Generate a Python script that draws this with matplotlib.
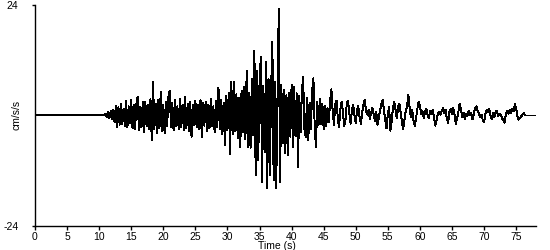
import numpy as np
import matplotlib
matplotlib.use("Agg")
import matplotlib.pyplot as plt

# ---- data (cm/s/s) ----
pre_event_time = [0.0, 1.0, 10.9]
pre_event_vals = [0.0, 0.2, 0.2]

t_start = 11.0
dt = 0.2
accel = [
    # 11.0 - 15.8
    0.3, -0.4, 0.8, -0.6, 1.0, -0.8, 1.2, -1.5, 2.0, -2.5, 1.8, -2.0, 2.6, -1.8, 1.5, -2.2, 3.2, -2.6, 2.0, -1.6, 3.4, -2.8, 2.2, -3.0, 2.5,
    # 16.0 - 20.8
    4.0, -3.2, 1.8, -2.6, 2.9, -3.6, 3.0, -2.4, 2.2, -3.0, 3.5, -5.3, 7.3, -3.0, 2.6, -3.8, 3.4, -2.8, 5.2, -3.4, 2.4, -3.8, 3.0, -2.2, 4.0,
    # 21.0 - 25.8
    5.4, -2.5, 2.8, -3.2, 3.4, -2.4, 2.0, -3.0, 3.6, -2.6, 2.4, -3.2, 4.0, -2.8, 2.6, -3.4, 3.0, -4.6, 2.4, -2.0, 3.2, -2.6, 2.4, -3.0, 3.4,
    # 26.0 - 30.8
    -4.6, 2.8, -2.2, 3.0, -3.4, 2.2, -2.8, 3.6, -2.4, 2.0, -3.6, 3.2, -2.6, 6.0, -3.0, 3.4, -4.0, 2.8, -6.4, 4.2, -3.2, 5.0, -8.4, 7.3, -4.0,
    # 31.0 - 35.8
    7.3, -3.4, 4.6, -5.0, 3.8, -6.8, 5.4, -3.6, 6.2, -5.2, 9.7, -6.8, 5.0, -7.0, 8.0, -4.2, 14.0, -13.0, 9.6, -9.6, 7.0, 12.7, -14.4, 6.4, -8.0,
    # 36.0 - 40.8
    11.6, -15.8, 8.0, -13.0, 5.0, 16.0, -14.0, 7.3, -15.8, 4.0, 23.1, -14.4, 6.6, -6.0, 5.5, -8.2, 4.4, -8.7, 5.0, -4.6, 6.6, -6.8, 6.2, -4.4, 4.8,
    # 41.0 - 45.8
    -11.1, 4.2, -3.6, 5.0, 8.4, -3.0, -4.6, 3.8, -5.4, 2.8, -3.0, 5.2, 8.1, -2.4, -6.8, 3.0, -2.0, 3.6, -1.8, 2.6, -3.0, 2.0, -2.4, 1.6, -1.4,
    # 46.0 - 50.8
    3.0, 5.7, 1.0, -2.0, 2.4, 3.2, -0.5, -2.6, 1.4, 3.0, 0.8, -2.2, -1.0, 2.6, 3.2, 0.4, -1.8, 1.0, 2.4, 0.0, -1.6, 1.2, 2.0, -0.4, -1.8,
    # 51.0 - 55.8
    0.6, 2.4, 3.4, 1.0, 0.2, 1.2, -0.8, 0.6, 1.6, 0.2, -1.2, 0.8, -2.0, -0.4, 1.2, 2.6, 3.4, 1.0, -1.0, -2.8, 0.4, 1.8, -3.3, -1.2, 1.6,
    # 56.0 - 60.8
    3.0, 1.2, -0.6, 1.8, 2.6, 0.6, -1.4, -3.0, -0.8, 1.0, 2.0, 4.5, 1.6, -0.4, 1.2, -1.0, -2.2, -0.6, 1.4, 3.0, 2.2, 0.4, 1.0, -0.6, 0.8,
    # 61.0 - 65.8
    1.4, 0.2, -0.6, 1.0, 0.4, 1.2, -0.4, -2.2, -1.0, 0.4, 0.8, 0.2, 1.0, 1.6, 0.6, 1.2, -0.6, -1.6, 0.8, 1.4, 0.4, 1.6, 0.2, -1.8, -0.6,
    # 66.0 - 70.8
    0.8, 2.6, 1.4, -0.4, 0.6, -0.8, 0.4, -0.2, 1.0, 0.0, 0.6, -0.8, 0.4, 1.5, 2.0, 1.0, 0.4, -0.4, 0.2, -1.0, -1.4, 0.2, 1.2, 0.8, 1.4,
    # 71.0 - 75.8
    0.0, -0.8, 0.6, -0.4, 0.8, 1.0, -0.2, 0.4, 0.2, -0.6, -1.0, -1.6, 0.2, 1.0, 0.4, 1.2, 0.6, 1.4, 1.0, 2.4, 1.6, -0.2, -0.9, -0.6, -0.2,
    # 76.0 - 76.4
    0.2, 0.5, 0.0,
]
post_event_time = [78.0]
post_event_vals = [0.0]

x_ticks = [0, 5, 10, 15, 20, 25, 30, 35, 40, 45, 50, 55, 60, 65, 70, 75]
y_ticks = [-24, 24]

# ---- build series ----
t_main = t_start + dt * np.arange(len(accel))
t = np.concatenate([pre_event_time, t_main, post_event_time])
v = np.concatenate([pre_event_vals, accel, post_event_vals])

plt.rcParams['font.family'] = ['Liberation Sans', 'DejaVu Sans']

fig = plt.figure(figsize=(5.5, 2.5), dpi=100)
ax = fig.add_axes([35 / 550, 1 - 226 / 250, (536 - 35) / 550, (226 - 5) / 250])
ax.plot(t, v, color='black', linewidth=0.7, antialiased=False)

ax.set_xlim(0, 78.1)
ax.set_ylim(-24, 24)
ax.set_xticks(x_ticks)
ax.set_yticks(y_ticks)
ax.set_yticklabels([str(y) for y in y_ticks])

for s in ['top', 'right']:
    ax.spines[s].set_visible(False)
for s in ['left', 'bottom']:
    ax.spines[s].set_linewidth(1.0)
    ax.spines[s].set_color('black')

ax.tick_params(axis='x', direction='out', length=3, width=1, labelsize=7.5, pad=1)
ax.tick_params(axis='y', direction='out', length=2, width=1, labelsize=7.5, pad=10)

fig.text(277 / 550, 1 - 241 / 250, 'Time (s)', ha='center', va='top', fontsize=7.5)
fig.text(17 / 550, 1 - 115 / 250, 'cm/s/s', ha='center', va='center', rotation=90, fontsize=7.5)

fig.savefig('out.png', dpi=100)
